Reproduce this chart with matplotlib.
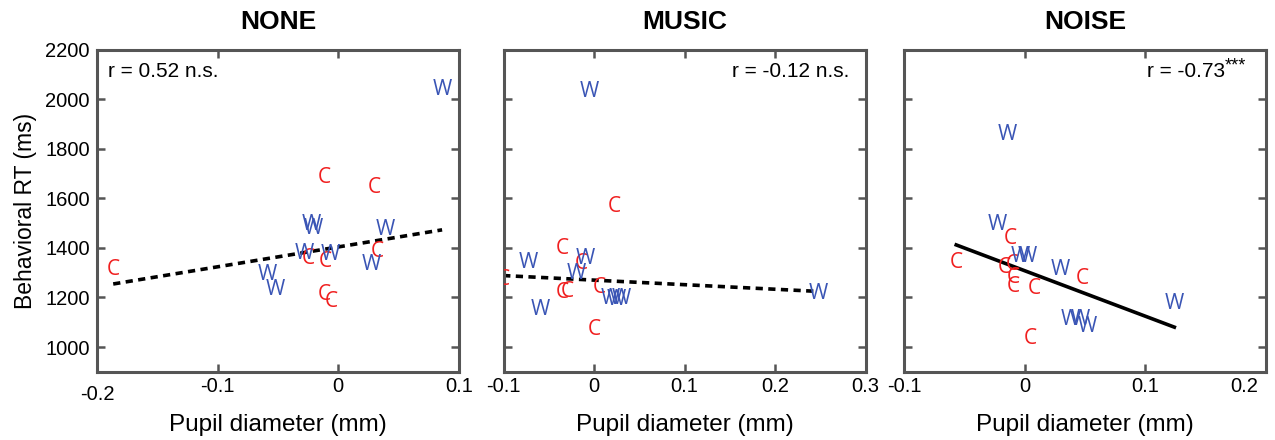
import numpy as np
import matplotlib.pyplot as plt
from matplotlib.transforms import ScaledTranslation

plt.rcParams['font.family'] = ['Liberation Sans', 'DejaVu Sans']

# ---- datos (pupila en mm, RT en ms) ----
titulos = ["NONE", "MUSIC", "NOISE"]
r_textos = ["r = 0.52 n.s.", "r = -0.12 n.s.", "r = -0.73"]
r_estrellas = ["", "", "***"]

none_c_x = [-0.012, 0.030, -0.025, -0.011, 0.032, -0.012, -0.0055, -0.1865]
none_c_y = [1686, 1642, 1359, 1345, 1386, 1211, 1184, 1312]
none_w_x = [0.086, -0.022, -0.021, 0.039, -0.028, -0.007, 0.0277, -0.059, -0.052]
none_w_y = [2038, 1493, 1480, 1473, 1379, 1372, 1332, 1292, 1231]

music_c_x = [0.022, -0.035, -0.0144, -0.1005, 0.0058, -0.035, -0.030, 0.0003]
music_c_y = [1567, 1399, 1339, 1271, 1242, 1220, 1225, 1070]
music_w_x = [-0.005, -0.0096, -0.020, -0.073, 0.018, 0.024, 0.030, -0.060, 0.248]
music_w_y = [2031, 1359, 1298, 1341, 1195, 1190, 1195, 1150, 1218]

noise_c_x = [-0.0123, -0.0567, -0.017, -0.010, -0.0095, -0.0095, 0.0077, 0.0474, 0.005]
noise_c_y = [1440, 1341, 1320, 1335, 1279, 1244, 1238, 1278, 1036]
noise_w_x = [-0.014, -0.0225, -0.0033, 0.002, 0.0296, 0.0378, 0.046, 0.0515, 0.124]
noise_w_y = [1857, 1493, 1366, 1366, 1312, 1110, 1110, 1083, 1177]

# rectas de regresion tal como aparecen (pendiente ms/mm, intercepto ms)
pendientes = [802, -184, -1837]
interceptos = [1404, 1270, 1308]

datos = [(none_c_x, none_c_y, none_w_x, none_w_y),
         (music_c_x, music_c_y, music_w_x, music_w_y),
         (noise_c_x, noise_c_y, noise_w_x, noise_w_y)]

limites_x = [(-0.2, 0.1), (-0.1, 0.3), (-0.1, 0.2)]
ticks_x = [[-0.2, -0.1, 0, 0.1], [-0.1, 0, 0.1, 0.2, 0.3], [-0.1, 0, 0.1, 0.2]]
estilo_linea = ["--", "--", "-"]

gris = "#555555"
rojo = "#f02020"
azul = "#3a55b5"

fig = plt.figure(figsize=(12.75, 4.4), dpi=100)
lefts = [0.076, 0.395, 0.709]

for k in range(3):
    ax = fig.add_axes([lefts[k], 0.155, 0.284, 0.732])
    cx, cy, wx, wy = datos[k]

    # letras como marcadores
    for x, y in zip(cx, cy):
        ax.text(x, y, "C", color=rojo, fontsize=15, ha="center", va="center",
                family="Open Sans", clip_on=True)
    for x, y in zip(wx, wy):
        ax.text(x, y, "W", color=azul, fontsize=15, ha="center", va="center",
                family="Open Sans", clip_on=True)

    # recta de regresion sobre el rango de los datos
    todos_x = np.array(cx + wx)
    xs = np.array([todos_x.min(), todos_x.max()])
    ys = pendientes[k] * xs + interceptos[k]
    if estilo_linea[k] == "--":
        ax.plot(xs, ys, "--", color="black", lw=2.6, dashes=(2.0, 1.5))
    else:
        ax.plot(xs, ys, "-", color="black", lw=2.6)

    ax.set_xlim(limites_x[k])
    ax.set_ylim(900, 2200)
    ax.set_xticks(ticks_x[k])
    ax.set_xticklabels([f"{t:g}" for t in ticks_x[k]])
    ax.set_yticks(np.arange(1000, 2201, 200))
    ax.tick_params(direction="in", length=6, width=1.8, color=gris,
                   top=True, right=True, labelsize=14.5)
    ax.tick_params(axis="x", pad=4)
    ax.tick_params(axis="y", pad=5)
    if k > 0:
        ax.set_yticklabels([])
    else:
        ax.set_ylabel("Behavioral RT (ms)", fontsize=16.5, labelpad=6)
    ax.set_xlabel("Pupil diameter (mm)", fontsize=17.5, va="center")
    ax.xaxis.set_label_coords(0.5, -0.165)
    ax.set_title(titulos[k], fontsize=19, fontweight="bold", pad=15)
    for s in ax.spines.values():
        s.set_color(gris)
        s.set_linewidth(2.2)

    if k == 0:
        # -0.2 aparece algo mas abajo en el original
        lbl = ax.get_xticklabels()[0]
        lbl.set_transform(lbl.get_transform() + ScaledTranslation(0, -0.08, fig.dpi_scale_trans))
    if k == 2:
        ax.get_xticklabels()[-1].set_horizontalalignment("right")
        ax.get_xticklabels()[-1].set_transform(
            ax.get_xticklabels()[-1].get_transform() + ScaledTranslation(-0.08, 0, fig.dpi_scale_trans))

    if k == 0:
        ax.text(0.03, 0.932, r_textos[k], transform=ax.transAxes, fontsize=15,
                ha="left", va="center")
    elif k == 1:
        ax.text(0.955, 0.932, r_textos[k], transform=ax.transAxes, fontsize=15,
                ha="right", va="center")
    else:
        ax.text(0.888, 0.932, r_textos[k], transform=ax.transAxes, fontsize=15,
                ha="right", va="center")
        ax.text(0.886, 0.95, r_estrellas[k], transform=ax.transAxes, fontsize=13,
                ha="left", va="center")

fig.savefig("out.png", dpi=100)
